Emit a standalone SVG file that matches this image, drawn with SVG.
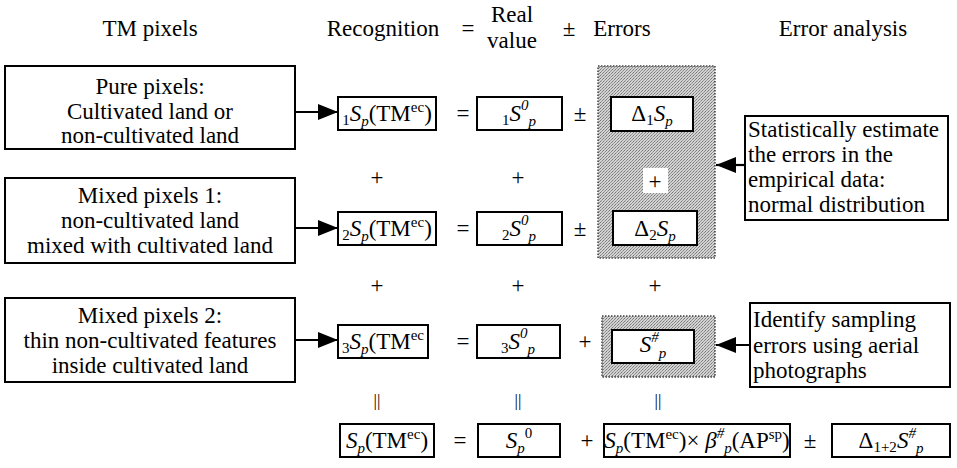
<svg xmlns="http://www.w3.org/2000/svg" width="957" height="468" viewBox="0 0 957 468" font-family="'Liberation Serif', 'DejaVu Serif', serif">
<style>
text{font-family:'Liberation Serif','DejaVu Serif',serif;font-size:23px;fill:#000}
.c{text-anchor:middle}
.box{fill:#fff;stroke:#000;stroke-width:2}
.shade{fill:url(#stip);stroke:#444;stroke-width:1.5;stroke-dasharray:1.5 1.5}
.ln{stroke:#000;stroke-width:2.2;fill:none}
.i{font-style:italic}
.s{font-size:15px}
.bar{font-size:17px}
</style>
<defs>
<pattern id="stip" width="3" height="3" patternUnits="userSpaceOnUse">
<rect width="3" height="3" fill="#d2d2d2"/>
<rect x="0" y="0" width="1" height="1" fill="#777"/>
<rect x="2" y="1" width="1" height="1" fill="#888"/>
<rect x="1" y="2" width="1" height="1" fill="#999"/>
</pattern>
<marker id="a" viewBox="0 0 20 16" refX="20" refY="8" markerWidth="20" markerHeight="16" markerUnits="userSpaceOnUse" orient="auto">
<path d="M0,0 L20,8 L0,16 z" fill="#000"/>
</marker>
</defs>

<g id="headers">
<text class="c" x="150" y="36">TM pixels</text>
<text class="c" x="383" y="36">Recognition</text>
<text class="c" x="468" y="36">=</text>
<text class="c" x="512" y="22">Real</text>
<text class="c" x="512" y="48">value</text>
<text class="c" x="569" y="36">±</text>
<text class="c" x="622" y="36">Errors</text>
<text class="c" x="843" y="36">Error analysis</text>
</g>

<g id="shades">
<rect class="shade" x="598" y="66" width="117" height="192"/>
<rect x="643" y="168" width="25" height="25" fill="#fff"/>
<rect class="shade" x="602" y="316" width="113" height="61"/>
</g>

<g id="pure-pixels">
<rect class="box" x="5" y="66" width="290" height="83"/>
<text class="c" x="150" y="94">Pure pixels:</text>
<text class="c" x="150" y="119">Cultivated land or</text>
<text class="c" x="150" y="143">non-cultivated land</text>
</g>
<g id="mixed-pixels-1">
<rect class="box" x="5" y="178" width="290" height="85"/>
<text class="c" x="150" y="203">Mixed pixels 1:</text>
<text class="c" x="150" y="228">non-cultivated land</text>
<text class="c" x="150" y="253">mixed with cultivated land</text>
</g>
<g id="mixed-pixels-2">
<rect class="box" x="5" y="298" width="290" height="84"/>
<text class="c" x="150" y="323">Mixed pixels 2:</text>
<text class="c" x="150" y="348">thin non-cultivated features</text>
<text class="c" x="150" y="373">inside cultivated land</text>
</g>

<g id="rec1">
<rect class="box" x="338" y="97" width="98" height="33"/>
<text class="c" x="387" y="121"><tspan class="s" dy="4">1</tspan><tspan class="i" dy="-4">S</tspan><tspan class="s i" dy="5">p</tspan><tspan dy="-5">(TM</tspan><tspan class="s" dy="-9">ec</tspan><tspan dy="9">)</tspan></text>
</g>
<g id="rec2">
<rect class="box" x="338" y="212" width="98" height="33"/>
<text class="c" x="387" y="236"><tspan class="s" dy="4">2</tspan><tspan class="i" dy="-4">S</tspan><tspan class="s i" dy="5">p</tspan><tspan dy="-5">(TM</tspan><tspan class="s" dy="-9">ec</tspan><tspan dy="9">)</tspan></text>
</g>
<g id="rec3">
<rect class="box" x="338" y="325" width="90" height="33"/>
<text class="c" x="383" y="349"><tspan class="s" dy="4">3</tspan><tspan class="i" dy="-4">S</tspan><tspan class="s i" dy="5">p</tspan><tspan dy="-5">(TM</tspan><tspan class="s" dy="-9">ec</tspan></text>
</g>

<g id="operators">
<text class="c" x="463" y="121">=</text>
<text class="c" x="463" y="236">=</text>
<text class="c" x="463" y="349">=</text>
<text class="c" x="580" y="121">±</text>
<text class="c" x="580" y="236">±</text>
<text class="c" x="585" y="349">+</text>
<text class="c" x="377" y="185">+</text>
<text class="c" x="518" y="185">+</text>
<text class="c" x="655" y="189">+</text>
<text class="c" x="377" y="293">+</text>
<text class="c" x="518" y="293">+</text>
<text class="c" x="655" y="293">+</text>
<text class="c bar" x="377" y="406">||</text>
<text class="c bar" x="518" y="406">||</text>
<text class="c bar" x="658" y="406">||</text>
<text class="c" x="460" y="448">=</text>
<text class="c" x="587" y="448">+</text>
<text class="c" x="810" y="448">±</text>
</g>

<g id="real1">
<rect class="box" x="477" y="97" width="85" height="33"/>
<text class="c" x="519" y="121"><tspan class="s" dy="4">1</tspan><tspan class="i" dy="-4">S</tspan><tspan class="s i" dy="-11">0</tspan><tspan class="s i" dy="16">p</tspan></text>
</g>
<g id="real2">
<rect class="box" x="477" y="212" width="85" height="33"/>
<text class="c" x="519" y="236"><tspan class="s" dy="4">2</tspan><tspan class="i" dy="-4">S</tspan><tspan class="s i" dy="-11">0</tspan><tspan class="s i" dy="16">p</tspan></text>
</g>
<g id="real3">
<rect class="box" x="477" y="325" width="83" height="33"/>
<text class="c" x="518" y="349"><tspan class="s" dy="4">3</tspan><tspan class="i" dy="-4">S</tspan><tspan class="s i" dy="-11">0</tspan><tspan class="s i" dy="16">p</tspan></text>
</g>

<g id="err1">
<rect class="box" x="611" y="97" width="82" height="34"/>
<text class="c" x="652" y="121">Δ<tspan class="s" dy="4">1</tspan><tspan class="i" dy="-4">S</tspan><tspan class="s i" dy="5">p</tspan></text>
</g>
<g id="err2">
<rect class="box" x="613" y="211" width="84" height="34"/>
<text class="c" x="655" y="236">Δ<tspan class="s" dy="4">2</tspan><tspan class="i" dy="-4">S</tspan><tspan class="s i" dy="5">p</tspan></text>
</g>
<g id="err3">
<rect class="box" x="612" y="330" width="82" height="33"/>
<text class="c" x="653" y="352"><tspan class="i">S</tspan><tspan class="s i" dy="-10">#</tspan><tspan class="s i" dy="16">p</tspan></text>
</g>

<g id="stat-box">
<rect class="box" x="745" y="116" width="203" height="104"/>
<text x="748" y="137">Statistically estimate</text>
<text x="748" y="162">the errors in the</text>
<text x="748" y="187">empirical data:</text>
<text x="748" y="212">normal distribution</text>
</g>
<g id="identify-box">
<rect class="box" x="750" y="303" width="200" height="84"/>
<text x="753" y="327">Identify sampling</text>
<text x="753" y="353">errors using aerial</text>
<text x="753" y="378">photographs</text>
</g>

<g id="total-rec">
<rect class="box" x="340" y="424" width="94" height="33"/>
<text class="c" x="387" y="448"><tspan class="i">S</tspan><tspan class="s i" dy="5">p</tspan><tspan dy="-5">(TM</tspan><tspan class="s" dy="-9">ec</tspan><tspan dy="9">)</tspan></text>
</g>
<g id="total-real">
<rect class="box" x="478" y="424" width="82" height="33"/>
<text class="c" x="519" y="448"><tspan class="i">S</tspan><tspan class="s i" dy="5">p</tspan><tspan class="s" dy="-15">0</tspan></text>
</g>
<g id="total-sampling">
<rect class="box" x="604" y="424" width="186" height="33"/>
<text class="c" x="697" y="448"><tspan class="i">S</tspan><tspan class="s i" dy="5">p</tspan><tspan dy="-5">(TM</tspan><tspan class="s" dy="-9">ec</tspan><tspan dy="9">)× </tspan><tspan class="i">β</tspan><tspan class="s i" dy="-10">#</tspan><tspan class="s i" dy="15">p</tspan><tspan dy="-5">(AP</tspan><tspan class="s" dy="-9">sp</tspan><tspan dy="9">)</tspan></text>
</g>
<g id="total-error">
<rect class="box" x="832" y="424" width="118" height="33"/>
<text class="c" x="891" y="448">Δ<tspan class="s" dy="4">1+2</tspan><tspan class="i" dy="-4">S</tspan><tspan class="s i" dy="-10">#</tspan><tspan class="s i" dy="15">p</tspan></text>
</g>

<g id="connectors">
<line class="ln" x1="295" y1="112" x2="338" y2="112" marker-end="url(#a)"/>
<line class="ln" x1="295" y1="228" x2="338" y2="228" marker-end="url(#a)"/>
<line class="ln" x1="295" y1="340" x2="338" y2="340" marker-end="url(#a)"/>
<line class="ln" x1="745" y1="165" x2="716" y2="165" marker-end="url(#a)"/>
<line class="ln" x1="750" y1="345" x2="716" y2="345" marker-end="url(#a)"/>
</g>
</svg>
